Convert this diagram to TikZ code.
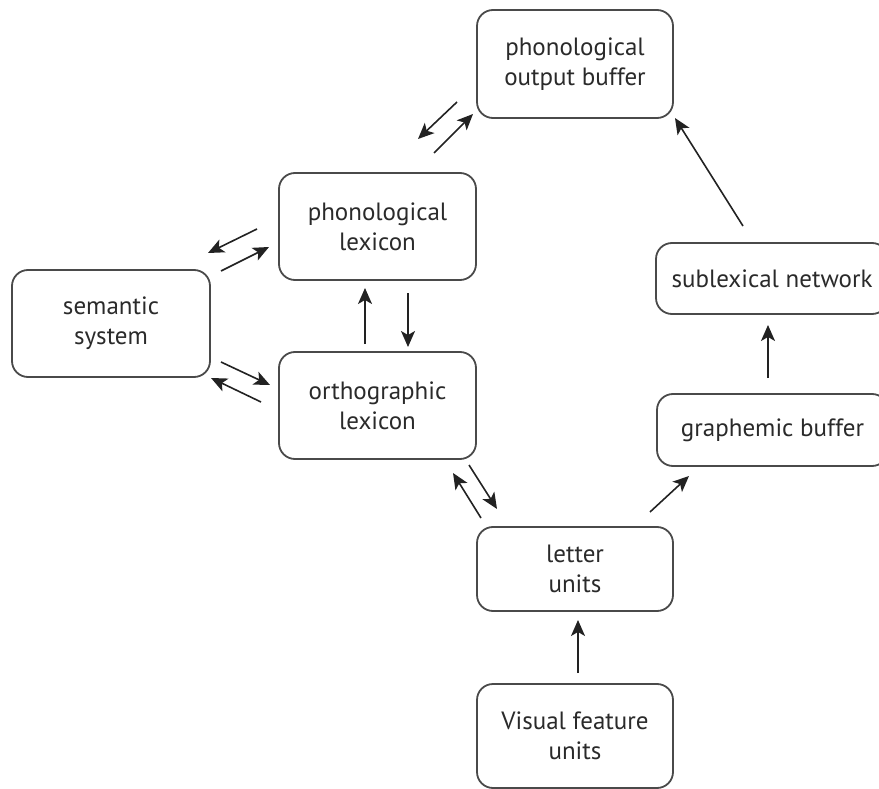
\documentclass[tikz,border=0pt]{standalone}
\usepackage{fontspec}
\setmainfont{PT Sans}
\usetikzlibrary{arrows.meta}
\definecolor{boxline}{HTML}{4A4A4A}
\definecolor{txt}{HTML}{2A2A2A}
\definecolor{arr}{HTML}{222222}
\begin{document}
\begin{tikzpicture}[x=1pt,y=-1pt,
  box/.style={draw=boxline, line width=1.8pt, rounded corners=16pt, align=center,
    text=txt, font=\fontsize{25}{30}\selectfont, inner sep=0pt},
  conn/.style={draw=arr, line width=1.6pt,
    -{Stealth[length=16pt,width=14pt,inset=4pt]}}]
\useasboundingbox (0,0) rectangle (879,789);
\node[box, minimum width=196pt, minimum height=108pt] (out) at (575,64) {phonological\\output buffer};
\node[box, minimum width=197pt, minimum height=107pt] (plex) at (377.5,226.5) {phonological\\lexicon};
\node[box, minimum width=198pt, minimum height=107pt] (sem) at (111,323.5) {semantic\\system};
\node[box, minimum width=197pt, minimum height=107pt] (orth) at (377.5,405.5) {orthographic\\lexicon};
\node[box, minimum width=232pt, minimum height=71pt] (sub) at (772,278.5) {sublexical network};
\node[box, minimum width=231pt, minimum height=72pt] (graph) at (772.5,430) {graphemic buffer};
\node[box, minimum width=196pt, minimum height=84pt] (let) at (575,569) {letter\\units};
\node[box, minimum width=196pt, minimum height=104pt] (vis) at (575,736) {Visual feature\\units};
% arrow end points
\coordinate (a1s) at (457,102); \coordinate (a1e) at (418,139);
\coordinate (a2s) at (434,153); \coordinate (a2e) at (473,114);
\coordinate (a3s) at (257,229); \coordinate (a3e) at (208,253);
\coordinate (a4s) at (221,271); \coordinate (a4e) at (269,247);
\coordinate (a5s) at (221,362); \coordinate (a5e) at (270,385);
\coordinate (a6s) at (261,402); \coordinate (a6e) at (211,378);
\coordinate (a7s) at (365,344); \coordinate (a7e) at (365,288);
\coordinate (a8s) at (408,293); \coordinate (a8e) at (408,347);
\coordinate (a9s) at (481,518); \coordinate (a9e) at (453,473);
\coordinate (a10s) at (469,465); \coordinate (a10e) at (497,509);
\coordinate (a11s) at (650,512); \coordinate (a11e) at (689,476);
\coordinate (a12s) at (768,378); \coordinate (a12e) at (768,325);
\coordinate (a13s) at (743,226); \coordinate (a13e) at (675,118);
\coordinate (a14s) at (578,673); \coordinate (a14e) at (578,620);
\draw[conn] (a1s) -- (a1e);
\draw[conn] (a2s) -- (a2e);
\draw[conn] (a3s) -- (a3e);
\draw[conn] (a4s) -- (a4e);
\draw[conn] (a5s) -- (a5e);
\draw[conn] (a6s) -- (a6e);
\draw[conn] (a7s) -- (a7e);
\draw[conn] (a8s) -- (a8e);
\draw[conn] (a9s) -- (a9e);
\draw[conn] (a10s) -- (a10e);
\draw[conn] (a11s) -- (a11e);
\draw[conn] (a12s) -- (a12e);
\draw[conn] (a13s) -- (a13e);
\draw[conn] (a14s) -- (a14e);
\end{tikzpicture}
\end{document}
